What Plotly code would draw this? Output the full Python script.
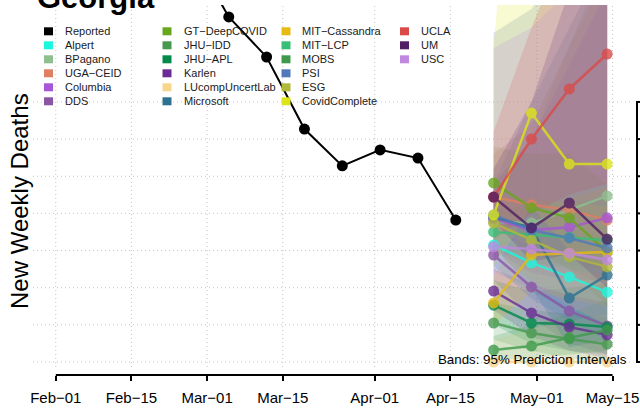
import plotly.graph_objects as go

# ---------------- data ----------------
reported_dates = ["2021-02-26", "2021-03-05", "2021-03-12", "2021-03-19",
                  "2021-03-26", "2021-04-02", "2021-04-09", "2021-04-16"]
reported_deaths = [1107, 929, 821, 627, 528, 571, 549, 382]

forecast_dates = ["2021-04-23", "2021-04-30", "2021-05-07", "2021-05-14"]

model_names = ["Alpert", "BPagano", "UGA\u2212CEID", "Columbia", "DDS",
               "GT\u2212DeepCOVID", "JHU\u2212IDD", "JHU\u2212APL", "Karlen",
               "LUcompUncertLab", "Microsoft", "MIT\u2212Cassandra", "MIT\u2212LCP",
               "MOBS", "PSI", "ESG", "CovidComplete", "UCLA", "UM", "USC"]
model_colors = ["#1DF7DE", "#8FBF8F", "#DF7F63", "#A656D6", "#8A55A5",
                "#68A61E", "#47994F", "#00894A", "#6A2C94", "#F7D68C",
                "#2C7191", "#E8BA14", "#38BF77", "#3E9A4A", "#4F79BA",
                "#B2B83A", "#DDE51A", "#DA4A48", "#511D63", "#C088E0"]

median_deaths = [
    [315, 267, 229, 188], [377, 374, 409, 447], [444, 423, 409, 382],
    [385, 355, 363, 388], [288, 202, 137, 97], [482, 415, 388, 296],
    [105, 78, 62, 48], [153, 105, 102, 94], [191, 132, 94, 73],
    [0, 0, 0, 0], [390, 361, 172, 234], [159, 288, 293, 296],
    [350, 342, 336, 328], [32, 43, 65, 86], [396, 355, 334, 307],
    [374, 328, 283, 256], [396, 670, 533, 533], [444, 600, 735, 829],
    [444, 361, 428, 331], [310, 304, 293, 275]]
lower95 = [
    [250, 190, 140, 90], [300, 260, 260, 250], [360, 300, 250, 200],
    [300, 240, 220, 220], [220, 120, 50, 20], [400, 310, 250, 150],
    [60, 30, 10, 0], [100, 50, 30, 20], [140, 70, 30, 10],
    [0, 0, 0, 0], [310, 200, 40, 60], [100, 190, 170, 150],
    [300, 270, 250, 230], [5, 10, 20, 30], [260, 170, 110, 60],
    [300, 220, 150, 100], [250, 420, 300, 250], [330, 400, 450, 480],
    [380, 270, 290, 200], [240, 200, 150, 100]]
upper95 = [
    [390, 380, 360, 330], [460, 600, 850, 1100], [560, 640, 850, 1050],
    [480, 600, 800, 1000], [360, 310, 280, 260], [580, 560, 560, 480],
    [160, 140, 130, 120], [220, 190, 200, 210], [250, 210, 180, 160],
    [60, 90, 110, 130], [480, 700, 900, 1100], [230, 400, 440, 470],
    [410, 420, 430, 440], [70, 100, 130, 170], [886, 950, 1100, 1300],
    [450, 440, 430, 420], [850, 2000, 1800, 1800], [620, 900, 1150, 1350],
    [520, 700, 1000, 1200], [845, 900, 1000, 1100]]

x_tick_dates = ["2021-02-01", "2021-02-15", "2021-03-01", "2021-03-15",
                "2021-04-01", "2021-04-15", "2021-05-01", "2021-05-15"]
x_tick_labels = ["Feb\u221201", "Feb\u221215", "Mar\u221201", "Mar\u221215",
                 "Apr\u221201", "Apr\u221215", "May\u221201", "May\u221215"]
y_ticks = [0, 100, 200, 300, 400, 500, 600, 700]

# ---------------- layout helpers ----------------
W, H = 640, 411
L, R, T, B = 33, 10, 5, 36
PW, PH = W - L - R, H - T - B
FONT = "Liberation Sans, Arial, sans-serif"
GRID = dict(color="#C4C4C4", width=1, dash="1px,3px")


def px_x(p):
    return (p - L) / PW


def px_y(p):
    return (H - B - p) / PH


def rgba(hx, a):
    h = hx.lstrip("#")
    return "rgba(%d,%d,%d,%.3f)" % (int(h[0:2], 16), int(h[2:4], 16), int(h[4:6], 16), a)


fig = go.Figure()

# prediction bands
for name, col, lo, hi in zip(model_names, model_colors, lower95, upper95):
    fig.add_trace(go.Scatter(
        x=forecast_dates + forecast_dates[::-1],
        y=hi + lo[::-1],
        fill="toself", fillcolor=rgba(col, 0.2),
        line=dict(width=0), mode="lines", hoverinfo="skip", showlegend=False))

# reported
fig.add_trace(go.Scatter(
    x=reported_dates, y=reported_deaths, mode="lines+markers",
    line=dict(color="black", width=2), marker=dict(color="black", size=11),
    showlegend=False))

# model medians
for name, col, med in zip(model_names, model_colors, median_deaths):
    fig.add_trace(go.Scatter(
        x=forecast_dates, y=med, mode="lines+markers", opacity=0.8,
        line=dict(color=col, width=2.5), marker=dict(color=col, size=11),
        showlegend=False, name=name))

shapes = []
# vertical dotted grid
for d in x_tick_dates:
    shapes.append(dict(type="line", xref="x", yref="paper", x0=d, x1=d,
                       y0=px_y(367), y1=1, line=GRID, layer="below"))
# horizontal dotted grid
for v in y_ticks:
    shapes.append(dict(type="line", xref="paper", yref="y", x0=0, x1=1,
                       y0=v, y1=v, line=GRID, layer="below"))
# x axis line
shapes.append(dict(type="line", xref="x", yref="paper", x0=x_tick_dates[0],
                   x1=x_tick_dates[-1], y0=0, y1=0, line=dict(color="black", width=2)))
# right-side y axis
shapes.append(dict(type="line", xref="paper", yref="y", x0=px_x(637), x1=px_x(637),
                   y0=y_ticks[0], y1=y_ticks[-1], line=dict(color="black", width=2)))
for v in y_ticks:
    shapes.append(dict(type="line", xref="paper", yref="y", x0=px_x(636), x1=px_x(648),
                       y0=v, y1=v, line=dict(color="black", width=2)))

annotations = []
annotations.append(dict(text="<b>Georgia</b>", xref="paper", yref="paper",
                        x=px_x(35), y=px_y(-3), xanchor="left", yanchor="middle",
                        showarrow=False, font=dict(family=FONT, size=31, color="black")))
annotations.append(dict(text="New Weekly Deaths", xref="paper", yref="paper",
                        x=px_x(20), y=px_y(201), xanchor="center", yanchor="middle",
                        textangle=-90, showarrow=False,
                        font=dict(family=FONT, size=24, color="black")))
annotations.append(dict(text="Bands: 95% Prediction Intervals", xref="paper", yref="paper",
                        x=px_x(629), y=px_y(359), xanchor="right", yanchor="middle",
                        showarrow=False, font=dict(family=FONT, size=13.3, color="black")))

# manual legend: 4 columns x 6 rows
legend_names = ["Reported"] + model_names
legend_colors = ["#000000"] + model_colors
col_sq_x = [44, 162.5, 281.5, 400]
col_tx_x = [63, 181.5, 300, 419]
row_y = [31.3, 45.3, 59.3, 73.3, 87.3, 101.3]
for i, (nm, c) in enumerate(zip(legend_names, legend_colors)):
    ci, ri = divmod(i, 6)
    sx, ty = col_sq_x[ci], row_y[ri]
    shapes.append(dict(type="rect", xref="paper", yref="paper",
                       x0=px_x(sx), x1=px_x(sx + 9), y0=px_y(ty - 4), y1=px_y(ty + 4),
                       fillcolor=c, line=dict(width=0)))
    annotations.append(dict(text=nm, xref="paper", yref="paper", x=px_x(col_tx_x[ci]),
                            y=px_y(ty), xanchor="left", yanchor="middle", showarrow=False,
                            font=dict(family=FONT, size=11, color="#1a1a1a")))

fig.update_layout(
    width=W, height=H, margin=dict(l=L, r=R, t=T, b=B, autoexpand=False),
    paper_bgcolor="white", plot_bgcolor="white",
    shapes=shapes, annotations=annotations, showlegend=False,
    xaxis=dict(type="date", range=["2021-01-27 18:46", "2021-05-18 05:31"],
               tickvals=x_tick_dates, ticktext=x_tick_labels, ticks="outside",
               ticklen=5, tickwidth=2, tickcolor="black", showgrid=False,
               showline=False, zeroline=False, ticklabelstandoff=4,
               tickfont=dict(family=FONT, size=15, color="black")),
    yaxis=dict(range=[-35, 961], tickvals=y_ticks, showticklabels=False, ticks="",
               showgrid=False, zeroline=False, showline=False),
)

fig.write_html("out.html", config={"displayModeBar": False},
               post_script="document.body.style.margin='0px';document.body.style.overflow='hidden';")
